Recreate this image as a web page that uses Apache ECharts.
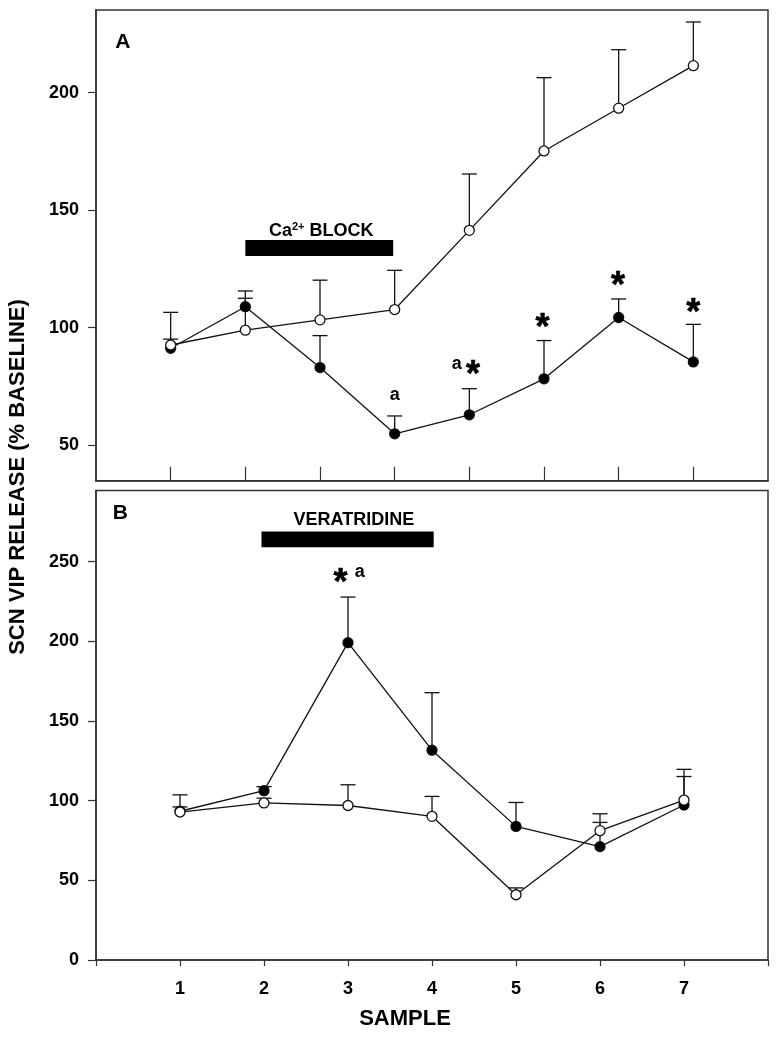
<!DOCTYPE html>
<html><head><meta charset="utf-8">
<script src="https://cdn.jsdelivr.net/npm/echarts@6/dist/echarts.min.js"></script>
<style>html,body{margin:0;padding:0;background:#fff}#c{width:779px;height:1037px}</style>
</head><body><div id="c"></div>
<script>
const FONT = '"Liberation Sans", Arial, Helvetica, sans-serif';

// ---------- Panel A (Ca2+ block) ----------
const samplesA = [1, 2, 3, 4, 5, 6, 7, 8];
const controlA = [92.6, 98.9, 103.3, 107.7, 141.4, 175.2, 193.4, 211.5];
const controlASem = [13.9, 13.6, 16.9, 16.7, 24.0, 31.2, 24.9, 18.6];
const blockA = [91.2, 108.9, 83.0, 54.8, 62.9, 78.2, 104.3, 85.4];
const blockASem = [3.9, 6.7, 13.6, 7.6, 11.1, 16.3, 7.9, 16.0];
const yTicksA = [50, 100, 150, 200];
const xTicksA = [1, 2, 3, 4, 5, 6, 7, 8];
const blockBarX = [2.0, 3.98];
const blockBarY = [130.5, 137.3];
const annotA = [
  ['A', 0.36, 221.6],
  ['block', 3.016, 141.0],
  ['a', 4.0, 71.1],
  ['a', 4.83, 84.4],
  ['*', 5.05, 83.4],
  ['*', 5.98, 103.0],
  ['*', 6.99, 121.0],
  ['*', 8.0, 109.7]
];

// ---------- Panel B (veratridine) ----------
const samplesB = [1, 2, 3, 4, 5, 6, 7];
const controlB = [92.9, 98.6, 97.0, 90.2, 41.0, 81.2, 100.4];
const controlBSem = [10.8, 3.0, 13.0, 12.5, 4.3, 10.6, 19.3];
const veraB = [93.4, 106.3, 199.2, 131.7, 83.9, 71.2, 97.3];
const veraBSem = [2.7, 2.5, 28.6, 36.1, 15.0, 15.2, 17.9];
const yTicksB = [0, 50, 100, 150, 200, 250];
const xTicksB = [0, 1, 2, 3, 4, 5, 6, 7, 8];
const xLabelsB = [1, 2, 3, 4, 5, 6, 7];
const veraBarX = [1.97, 4.02];
const veraBarY = [259.0, 269.0];
const annotB = [
  ['B', 0.29, 280.2],
  ['VERATRIDINE', 3.07, 276.2],
  ['*', 2.91, 241.8],
  ['a', 3.14, 243.7]
];

const INK = '#111';
const FRAME = '#333';

function pts(xs, ys) { return xs.map((x, i) => [x, ys[i]]); }

function lineSeries(idx, xs, ys, filled) {
  return {
    type: 'line', xAxisIndex: idx, yAxisIndex: idx,
    data: pts(xs, ys),
    symbol: 'circle', symbolSize: 10,
    lineStyle: { color: INK, width: 1.3 },
    itemStyle: { color: filled ? '#000' : '#fff', borderColor: INK, borderWidth: 1.3 },
    z: filled ? 3 : 4,
    animation: false, silent: true
  };
}

function errSeries(idx, xs, ys, sem) {
  return {
    type: 'custom', xAxisIndex: idx, yAxisIndex: idx,
    data: xs.map((x, i) => [x, ys[i], ys[i] + sem[i]]),
    renderItem: function (params, api) {
      const p0 = api.coord([api.value(0), api.value(1)]);
      const p1 = api.coord([api.value(0), api.value(2)]);
      const st = { stroke: INK, lineWidth: 1.3 };
      return {
        type: 'group', children: [
          { type: 'line', shape: { x1: p0[0], y1: p0[1], x2: p1[0], y2: p1[1] }, style: st },
          { type: 'line', shape: { x1: p1[0] - 7.5, y1: p1[1], x2: p1[0] + 7.5, y2: p1[1] }, style: st }
        ]
      };
    },
    z: 2, animation: false, silent: true
  };
}

function barSeries(idx, bx, by) {
  return {
    type: 'custom', xAxisIndex: idx, yAxisIndex: idx,
    data: [[bx[0], by[0], bx[1], by[1]]],
    renderItem: function (params, api) {
      const a = api.coord([api.value(0), api.value(3)]);
      const b = api.coord([api.value(2), api.value(1)]);
      return { type: 'rect', shape: { x: a[0], y: a[1], width: b[0] - a[0], height: b[1] - a[1] }, style: { fill: '#000' } };
    },
    z: 2, animation: false, silent: true
  };
}

function annotSeries(idx, list) {
  return {
    type: 'custom', xAxisIndex: idx, yAxisIndex: idx,
    data: list.map(a => [a[1], a[2]]),
    renderItem: function (params, api) {
      const t = list[params.dataIndex][0];
      const p = api.coord([api.value(0), api.value(1)]);
      let style;
      if (t === '*') {
        style = { text: '*', font: 'bold 36px ' + FONT, fill: '#000', align: 'center', verticalAlign: 'middle', stroke: '#000', lineWidth: 0.6 };
        return { type: 'text', x: p[0], y: p[1] + 9, style: style };
      }
      if (t === 'block') {
        style = {
          text: '{n|Ca}{s|2+}{n| BLOCK}', align: 'center', verticalAlign: 'middle', fill: '#000',
          rich: {
            n: { font: 'bold 18px ' + FONT, fill: '#000', lineHeight: 20 },
            s: { font: 'bold 11px ' + FONT, fill: '#000', verticalAlign: 'top', lineHeight: 20 }
          }
        };
        return { type: 'text', x: p[0], y: p[1], style: style };
      }
      const size = (t === 'A' || t === 'B') ? 21 : 18;
      style = { text: t, font: 'bold ' + size + 'px ' + FONT, fill: '#000', align: 'center', verticalAlign: 'middle' };
      return { type: 'text', x: p[0], y: p[1], style: style };
    },
    z: 5, animation: false, silent: true
  };
}

const tickStyle = { color: FRAME, width: 1.2 };
const labelFont = { fontFamily: FONT, fontWeight: 'bold', fontSize: 18, color: '#000' };

const option = {
  backgroundColor: '#fff',
  animation: false,
  grid: [
    { left: 96, top: 10, width: 672, height: 470.8, show: true, borderColor: FRAME, borderWidth: 1.5, backgroundColor: 'transparent', containLabel: false },
    { left: 96, top: 490.6, width: 672, height: 469.5, show: true, borderColor: FRAME, borderWidth: 1.5, backgroundColor: 'transparent', containLabel: false }
  ],
  xAxis: [
    {
      gridIndex: 0, type: 'value', min: 0, max: 9,
      axisLine: { show: true, onZero: false, lineStyle: { color: FRAME, width: 1.5 } },
      axisTick: { show: true, inside: true, length: 14, customValues: xTicksA, lineStyle: tickStyle },
      axisLabel: { show: false },
      splitLine: { show: false }
    },
    {
      gridIndex: 1, type: 'value', min: 0, max: 8, interval: 1,
      axisLine: { show: true, onZero: false, lineStyle: { color: FRAME, width: 1.5 } },
      axisTick: { show: true, inside: false, length: 6, customValues: xTicksB, lineStyle: tickStyle },
      axisLabel: Object.assign({ show: true, margin: 20, customValues: xLabelsB }, labelFont),
      splitLine: { show: false }
    }
  ],
  yAxis: [
    {
      gridIndex: 0, type: 'value', min: 34.8, max: 235.2,
      axisLine: { show: true, onZero: false, lineStyle: { color: FRAME, width: 1.5 } },
      axisTick: { show: true, inside: false, length: 8, customValues: yTicksA, lineStyle: tickStyle },
      axisLabel: Object.assign({ show: true, margin: 17, customValues: yTicksA }, labelFont),
      splitLine: { show: false }
    },
    {
      gridIndex: 1, type: 'value', min: 0, max: 294.6,
      axisLine: { show: true, onZero: false, lineStyle: { color: FRAME, width: 1.5 } },
      axisTick: { show: true, inside: false, length: 8, customValues: yTicksB, lineStyle: tickStyle },
      axisLabel: Object.assign({ show: true, margin: 17, customValues: yTicksB }, labelFont),
      splitLine: { show: false }
    }
  ],
  graphic: [
    {
      type: 'text', x: 18, y: 477, rotation: Math.PI / 2,
      style: { text: 'SCN VIP RELEASE (% BASELINE)', font: 'bold 22px ' + FONT, fill: '#000', align: 'center', verticalAlign: 'middle' }
    },
    {
      type: 'text', x: 405, y: 1019,
      style: { text: 'SAMPLE', font: 'bold 22px ' + FONT, fill: '#000', align: 'center', verticalAlign: 'middle' }
    }
  ],
  series: [
    barSeries(0, blockBarX, blockBarY),
    errSeries(0, samplesA, blockA, blockASem),
    errSeries(0, samplesA, controlA, controlASem),
    lineSeries(0, samplesA, blockA, true),
    lineSeries(0, samplesA, controlA, false),
    annotSeries(0, annotA),
    barSeries(1, veraBarX, veraBarY),
    errSeries(1, samplesB, veraB, veraBSem),
    errSeries(1, samplesB, controlB, controlBSem),
    lineSeries(1, samplesB, veraB, true),
    lineSeries(1, samplesB, controlB, false),
    annotSeries(1, annotB)
  ]
};

const chart = echarts.init(document.getElementById('c'), null, { renderer: 'canvas' });
chart.setOption(option);
</script>
</body></html>
